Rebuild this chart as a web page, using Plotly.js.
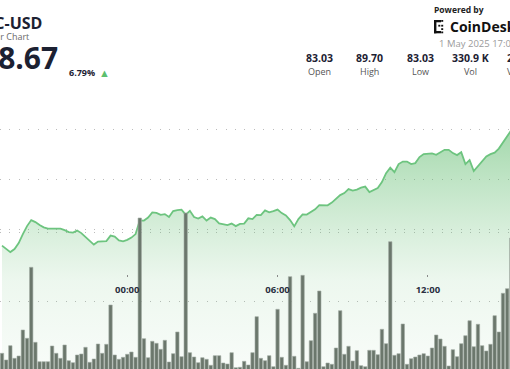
<!DOCTYPE html>
<html>
<head>
<meta charset="utf-8">
<script src="https://cdn.plot.ly/plotly-3.0.1.min.js"></script>
<style>html,body{margin:0;padding:0;background:#fff;overflow:hidden}#chart{width:510px;height:369px}</style>
</head>
<body>
<div id="chart"></div>
<script>
// ---- data (10-minute bars, LTC-USD, 30 Apr 19:00 -> 1 May 15:20) ----
const startTime = '2025-04-30 19:00';
const stepMs = 600000;
const price = [83.36,83.22,83.10,83.22,83.46,83.82,84.14,84.38,84.30,84.18,
84.09,84.04,84.05,84.05,84.04,83.98,83.90,83.88,83.96,83.86,
83.71,83.54,83.40,83.52,83.52,83.54,83.76,83.72,83.57,83.53,
83.59,83.68,83.82,84.37,84.36,84.48,84.69,84.67,84.59,84.62,
84.50,84.74,84.78,84.80,84.60,84.75,84.50,84.44,84.53,84.36,
84.48,84.42,84.25,84.22,84.18,84.24,84.14,84.23,84.24,84.45,
84.42,84.59,84.58,84.77,84.69,84.74,84.80,84.66,84.57,84.38,
84.13,84.42,84.61,84.60,84.71,84.81,84.98,84.98,84.97,85.08,
85.22,85.38,85.46,85.62,85.56,85.60,85.68,85.72,85.50,85.57,
85.66,85.90,86.26,86.48,86.30,86.62,86.72,86.72,86.62,86.66,
86.90,87.02,87.04,87.05,86.99,87.09,87.19,87.19,87.06,86.98,
87.10,86.62,86.78,86.34,86.54,86.74,86.93,87.02,87.08,87.24,
87.48,87.72,87.98];
const volume = [1210,725,1761,848,1014,2899,2297,7442,2007,601,
601,601,1739,1210,848,1812,674,529,1087,1159,
1645,558,797,1884,1210,1862,4710,1087,775,920,
1138,1304,920,11014,2268,891,2080,1935,1500,2152,
580,1181,2754,964,11377,1254,942,529,891,775,
341,1036,1036,507,435,1254,167,196,630,362,
1254,3862,848,674,1036,239,4398,920,341,6761,
993,123,6862,601,2123,4109,5725,239,507,413,
1594,4297,1138,1717,652,1399,312,239,1427,1427,
1109,2949,1906,9297,1065,1181,3333,413,819,942,
1087,1181,1014,1594,2536,2246,1717,290,1471,964,
1906,2485,3572,1688,3312,1761,1377,1862,3935,2754,
5558,5891,9565];
const priceGrid = [84, 86, 88];
const volumeGrid = [5000, 10000];
const symbol = 'LTC-USD';
const subtitle = '24 Hour Chart';
const lastPrice = '88.67';
const changePct = '6.79%';
const statValues = ['83.03', '89.70', '83.03', '330.9 K', '28.5 M'];
const statLabels = ['Open', 'High', 'Low', 'Vol', 'Vol (USD)'];
const dateText = '1 May 2025 17:07 UTC';

// ---- layout helpers ----
const W = 510, H = 369;
const px = x => x / W;
const py = y => 1 - y / H;
const FONT = 'Open Sans, Noto Sans, sans-serif';
const dark = '#1c2132';

function txt(text, x, y, size, color, bold, xanchor) {
  return {text: text, x: px(x), y: py(y), xref: 'paper', yref: 'paper',
    xanchor: xanchor || 'center', yanchor: 'middle', showarrow: false,
    borderpad: 0,
    font: {family: FONT, size: size, color: color, weight: bold ? 'bold' : 'normal'}};
}

const annotations = [
  txt(symbol, 42.5, 22.5, 16, dark, true, 'right'),
  txt(subtitle, 29.5, 36.5, 9, '#6a6a6a', false, 'right'),
  txt(lastPrice, 59, 58, 30, dark, true, 'right'),
  txt(changePct, 68, 72.5, 9, dark, true, 'left'),
  txt('\u25B2', 104.8, 72.3, 11, '#5cbf6e', false, 'center'),
  txt('Powered by', 433, 9.5, 8.5, '#222', true, 'left'),
  txt('CoinDesk', 448.5, 26.8, 14, '#111', true, 'left'),
  txt(dateText, 438, 43.5, 9.5, '#9a9a9a', false, 'left')
];
const statX = [319, 369.5, 420.3, 470.3];
for (let i = 0; i < 4; i++) {
  annotations.push(txt(statValues[i], statX[i], 58.3, 10.5, dark, true, 'center'));
  annotations.push(txt(statLabels[i], statX[i], 71.3, 9, '#555', false, 'center'));
}
annotations.push(txt(statValues[4], 506.4, 58.3, 10.5, dark, true, 'left'));
annotations.push(txt(statLabels[4], 506, 71.3, 9, '#555', false, 'left'));

// CoinDesk icon
const ic = '#111';
function rect(x0, y0, x1, y1) {
  return {type: 'rect', xref: 'paper', yref: 'paper', x0: px(x0), x1: px(x1), y0: py(y1), y1: py(y0),
    fillcolor: ic, line: {width: 0}, layer: 'above'};
}
const shapes = [
  rect(434, 20, 436.4, 33.3), rect(434, 20, 441, 22.3), rect(434, 31, 441, 33.3),
  rect(438.3, 24.8, 440.3, 26.6), rect(441.2, 24.8, 443.2, 26.6),
  rect(441.2, 20, 443.2, 21.8), rect(441.2, 28.2, 443.2, 30),
  rect(441.2, 31.5, 443.2, 33.3)
];

const traces = [
  {type: 'scatter', mode: 'lines', x0: startTime, dx: stepMs, y: price,
   line: {color: '#6dc47f', width: 1.8}, fill: 'tozeroy',
   fillgradient: {type: 'vertical', start: 78.42, stop: 88.5,
     colorscale: [[0, 'rgba(90,185,105,0.04)'], [0.35, 'rgba(90,185,105,0.11)'],
                  [0.553, 'rgba(90,185,105,0.24)'], [0.752, 'rgba(90,185,105,0.385)'],
                  [1, 'rgba(90,185,105,0.59)']]},
   hoverinfo: 'skip'},
  {type: 'bar', x0: startTime, dx: stepMs, y: volume, yaxis: 'y2',
   width: 488000, marker: {color: '#6b776c', line: {color: '#a3ada4', width: 0.6}},
   hoverinfo: 'skip'}
];

const gridStyle = {showgrid: true, gridcolor: '#bcbcbc', gridwidth: 1, griddash: '1px,8.4px',
  zeroline: false, showline: false, ticks: '', showticklabels: false, fixedrange: true};

const layout = {
  width: W, height: H, margin: {l: 0, r: 0, t: 0, b: 0, pad: 0},
  paper_bgcolor: '#fff', plot_bgcolor: 'rgba(0,0,0,0)', showlegend: false,
  bargap: 0,
  xaxis: {type: 'date', range: ['2025-04-30 18:55:13', '2025-05-01 15:16:46'],
    anchor: 'free', position: 1 - 274/369,
    tick0: '2025-04-30 00:00', dtick: 21600000, tickformat: '%H:%M',
    ticks: 'outside', ticklen: 1.5, tickwidth: 1.2, tickcolor: '#8a8a8a',
    ticklabelstandoff: 5,
    showline: false, showgrid: false, zeroline: false, fixedrange: true,
    tickfont: {family: FONT, size: 9.5, color: '#2a2f3f', weight: 'bold'}},
  yaxis: Object.assign({range: [78.424, 93.184], tickvals: priceGrid}, gridStyle),
  yaxis2: Object.assign({range: [72.46, 26811.6], tickvals: volumeGrid, overlaying: 'y', side: 'right'}, gridStyle),
  annotations: annotations,
  shapes: shapes
};

Plotly.newPlot('chart', traces, layout, {staticPlot: true, displayModeBar: false});
</script>
</body>
</html>
